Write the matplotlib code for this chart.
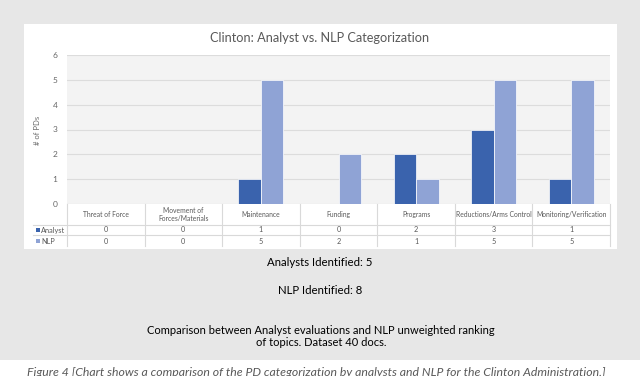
import matplotlib
matplotlib.use("Agg")
import matplotlib.pyplot as plt
from matplotlib.patches import Rectangle
from matplotlib.lines import Line2D
import matplotlib.transforms as mtransforms

plt.rcParams['font.family'] = ['Lato', 'DejaVu Sans']

categories = ["Threat of Force", "Movement of\nForces/Materials", "Maintenance", "Funding",
              "Programs", "Reductions/Arms Control", "Monitoring/Verification"]
analyst = [0, 0, 1, 0, 2, 3, 1]
nlp = [0, 0, 5, 2, 1, 5, 5]
series_names = ["Analyst", "NLP"]
yticks = [0, 1, 2, 3, 4, 5, 6]

W, H = 640, 376
fig = plt.figure(figsize=(W / 100, H / 100), dpi=100)
fig.patch.set_facecolor('#e7e7e7')

def fx(px):
    return px / W

def fy(py):
    return 1 - py / H

# white band at bottom (caption area)
fig.patches.append(Rectangle((0, 0), 1, fy(360), transform=fig.transFigure,
                             facecolor='white', edgecolor='none', zorder=-2))
# white chart panel
fig.patches.append(Rectangle((fx(24), fy(249)), fx(617) - fx(24), fy(24) - fy(249),
                             transform=fig.transFigure, facecolor='white',
                             edgecolor='none', zorder=-2))

left, right, top, bottom = 67, 610, 55, 204
ax = fig.add_axes([fx(left), fy(bottom), fx(right) - fx(left), fy(top) - fy(bottom)])
ax.set_zorder(2)
ax.set_facecolor('#f3f3f3')
c_an = '#3a63ad'
c_nlp = '#8fa3d5'
x = list(range(len(categories)))
bw = 0.29
ax.bar([i - bw / 2 for i in x], analyst, width=bw, color=c_an, edgecolor='white',
       linewidth=0.5, zorder=3)
ax.bar([i + bw / 2 for i in x], nlp, width=bw, color=c_nlp, edgecolor='white',
       linewidth=0.5, zorder=3)
ax.set_xlim(-0.5, len(categories) - 0.5)
ax.set_ylim(0, 6)
ax.set_yticks(yticks)
ax.set_yticklabels([str(t) for t in yticks], fontsize=6, color='#666666')
ax.tick_params(axis='y', length=0, pad=7)
ax.set_xticks([])
ax.grid(axis='y', color='#dcdcdc', linewidth=0.8, zorder=1)
for s in ax.spines.values():
    s.set_visible(False)

fig.text(fx(37), fy(130), "# of PDs", rotation=90, fontsize=5.5, color='#666666',
         ha='center', va='center')

fig.text(fx(320), fy(38), "Clinton: Analyst vs. NLP Categorization", fontsize=9.2,
         color='#595959', ha='center', va='center')

# table
blend = mtransforms.blended_transform_factory(ax.transData, fig.transFigure)
line_c = '#d9d9d9'
for b in [i - 0.5 for i in range(len(categories) + 1)]:
    ax.add_line(Line2D([b, b], [fy(204), fy(246)], transform=blend, color=line_c,
                       linewidth=0.8, clip_on=False))
for yy in (225, 235):
    fig.add_artist(Line2D([fx(33), fx(right)], [fy(yy), fy(yy)], color=line_c,
                          linewidth=0.8))
for i, cat in enumerate(categories):
    ax.text(i, fy(214.5), cat, transform=blend, ha='center', va='center',
            fontsize=4.9, color='#595959', linespacing=1.1)
    ax.text(i, fy(230), str(analyst[i]), transform=blend, ha='center', va='center',
            fontsize=5.2, color='#595959')
    ax.text(i, fy(241), str(nlp[i]), transform=blend, ha='center', va='center',
            fontsize=5.2, color='#595959')
for yy, name, col in ((230, series_names[0], c_an), (241, series_names[1], c_nlp)):
    fig.patches.append(Rectangle((fx(36), fy(yy) - 1.75 / H), 3.5 / W, 3.5 / H,
                                 transform=fig.transFigure, facecolor=col,
                                 edgecolor='none'))
    fig.text(fx(41), fy(yy), name, fontsize=5.3, color='#595959', ha='left',
             va='center')

# texts below
fig.text(fx(320), fy(262), "Analysts Identified: 5", fontsize=8.2, color='black',
         ha='center', va='center')
fig.text(fx(320), fy(290), "NLP Identified: 8", fontsize=8.2, color='black',
         ha='center', va='center')
fig.text(fx(321), fy(331), "Comparison between Analyst evaluations and NLP unweighted ranking",
         fontsize=8.0, color='black', ha='center', va='center')
fig.text(fx(321), fy(343), "of topics. Dataset 40 docs.", fontsize=8.0, color='black',
         ha='center', va='center')
fig.text(fx(316), fy(372),
         "Figure 4 [Chart shows a comparison of the PD categorization by analysts and NLP for the Clinton Administration.]",
         fontsize=8.8, color='#595959', style='italic', ha='center', va='center')

fig.savefig("out.png", dpi=100, facecolor=fig.get_facecolor())
